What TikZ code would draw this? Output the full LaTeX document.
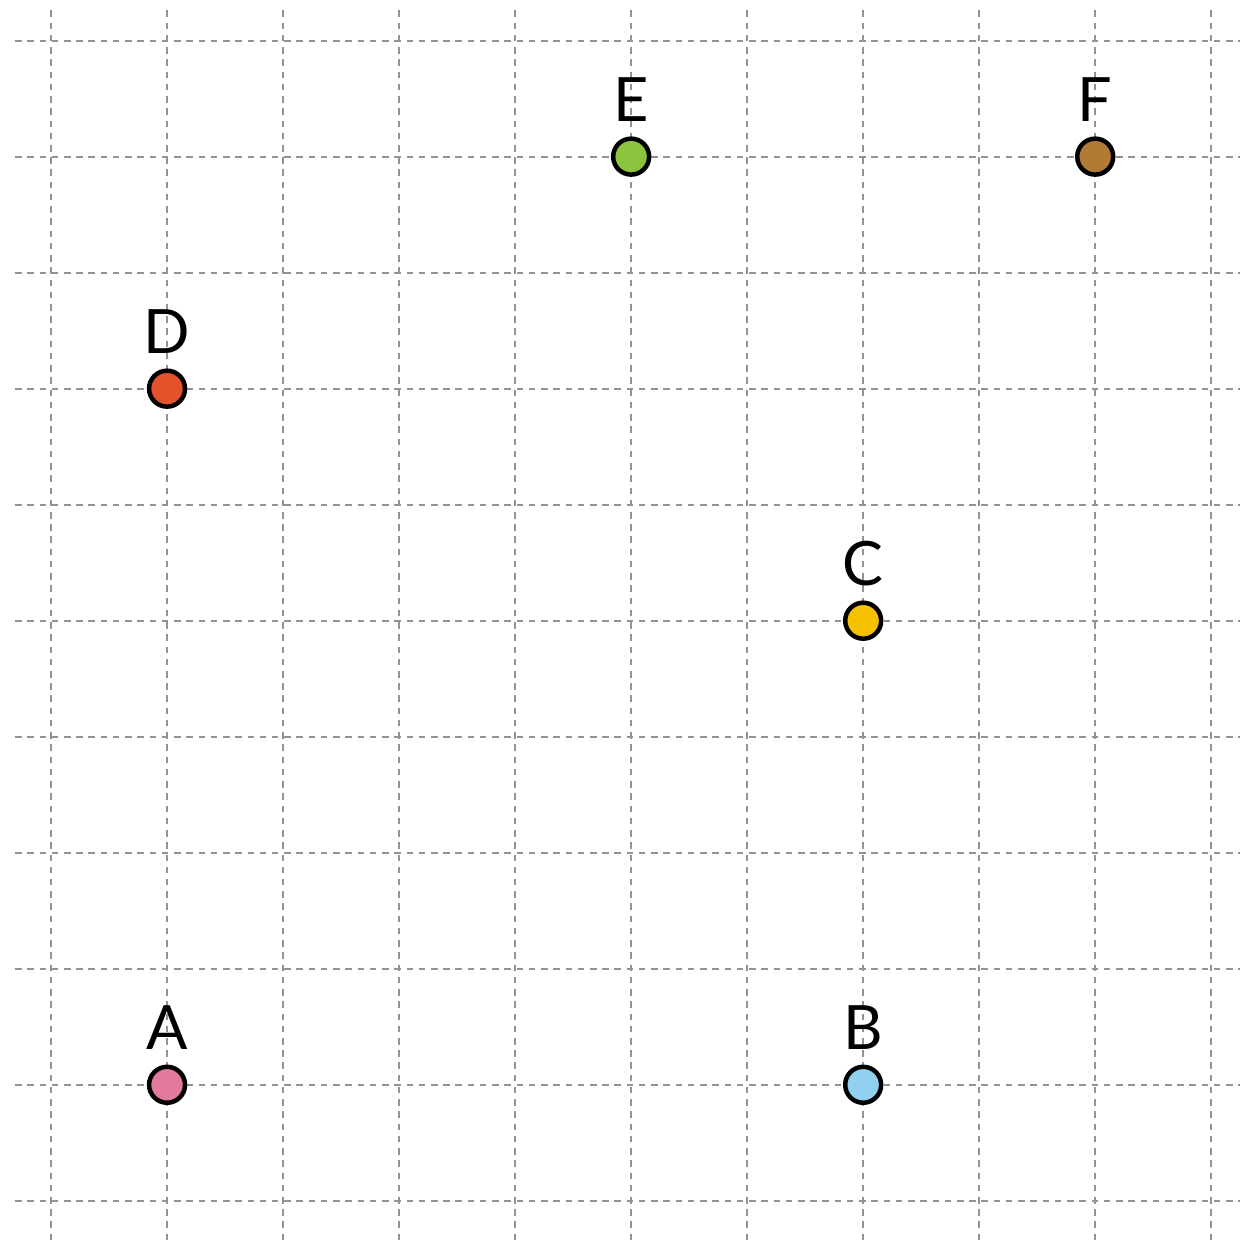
\documentclass[tikz,border=0pt]{standalone}
\usepackage{fontspec}
\setmainfont{Lato}
\usepackage{tikz}
\usetikzlibrary{positioning}
\usepackage{xcolor}
\definecolor{ptA}{HTML}{E27A9E}
\definecolor{ptB}{HTML}{92D0F0}
\definecolor{ptC}{HTML}{F6C200}
\definecolor{ptD}{HTML}{E4512B}
\definecolor{ptE}{HTML}{8DC43E}
\definecolor{ptF}{HTML}{B27A34}

\begin{document}
\begin{tikzpicture}[gridline/.style={gray!85, line width=0.5pt, dash pattern=on 1.6pt off 1.4pt},
  point/.style={circle, draw=black, line width=1.1pt, minimum size=0.31cm, inner sep=0pt},
  ptlabel/.style={rectangle, text centered, font=\fontsize{15}{15}\selectfont, inner sep=0pt}]
\useasboundingbox (-0.44,-0.38) rectangle (10.36,10.35);

\foreach \i in {0,...,10} {
  \draw [gridline] (\i,-0.34) -- (\i,10.27);
  \draw [gridline] (-0.31,\i) -- (10.25,\i);
}

\node [point, fill=ptA] (A) at (1,1) {};
\node [point, fill=ptB] (B) at (7,1) {};
\node [point, fill=ptC] (C) at (7,5) {};
\node [point, fill=ptD] (D) at (1,7) {};
\node [point, fill=ptE] (E) at (5,9) {};
\node [point, fill=ptF] (F) at (9,9) {};

\node [ptlabel, above=0.12cm of A] (labA) {A};
\node [ptlabel, above=0.12cm of B] (labB) {B};
\node [ptlabel, above=0.12cm of C] (labC) {C};
\node [ptlabel, above=0.12cm of D] (labD) {D};
\node [ptlabel, above=0.12cm of E] (labE) {E};
\node [ptlabel, above=0.12cm of F] (labF) {F};

\end{tikzpicture}
\end{document}
